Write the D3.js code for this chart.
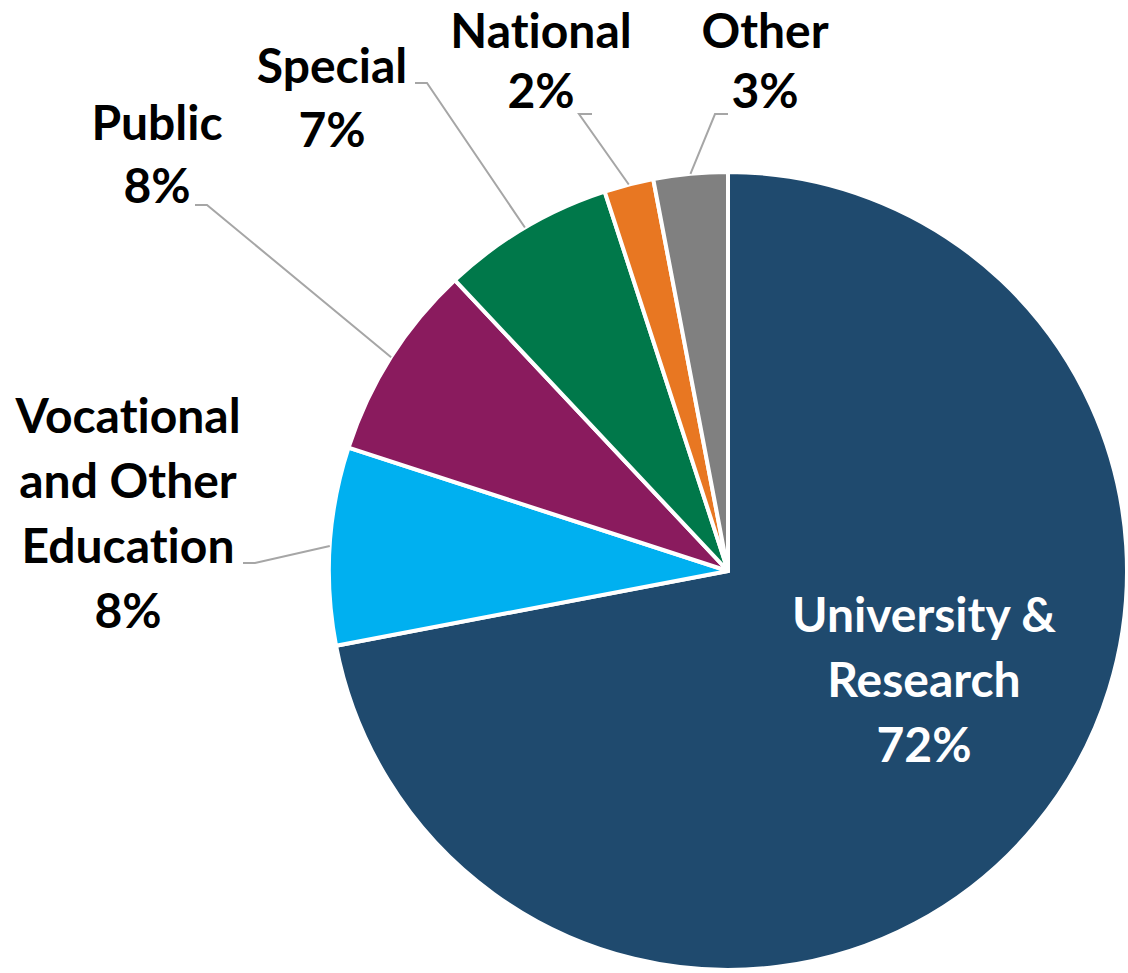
<!DOCTYPE html>
<html>
<head>
<meta charset="utf-8">
<script src="https://cdn.jsdelivr.net/npm/d3@7"></script>
<style>
  body { margin: 0; background: #fff; }
  text { font-family: Lato, "Open Sans", sans-serif; font-weight: bold; font-variant-ligatures: none; font-feature-settings: "liga" 0, "clig" 0; }
</style>
</head>
<body>
<main></main>
<script>
// data
let categories = ["University & Research", "Vocational and Other Education", "Public", "Special", "National", "Other"]
let shares = [72, 8, 8, 7, 2, 3]
let colors = ["#1f4a6e", "#00b0f0", "#8a1b5e", "#00784a", "#e87722", "#808080"]

// label layout: text lines, centre x, first baseline, elbow point of leader line
let labelLines = [
    ["University &", "Research", "72%"],
    ["Vocational", "and Other", "Education", "8%"],
    ["Public", "8%"],
    ["Special", "7%"],
    ["National", "2%"],
    ["Other", "3%"]
]
let labelX = [924, 128, 157, 332, 541, 765]
let labelY = [632, 433, 140, 83, 48, 48]
let lineGap = [65, 65, 63, 64, 60, 60]
let elbowFrom = [null, [243, 563], [195, 205], [415, 83], [592, 114], [728, 114]]
let elbowTo = [null, [255, 563], [207, 205], [427, 83], [579, 114], [715, 114]]

let width = 1128, height = 973
let cx = 728, cy = 571, r = 399

let svg = d3.select('main').append('svg')
    .attr('width', width)
    .attr('height', height)

let pie = d3.pie().sort(null).value(d => d)
let arcs = pie(shares)

let arc = d3.arc().innerRadius(0).outerRadius(r)
let edge = d3.arc().innerRadius(r).outerRadius(r)

let g = svg.append('g').attr('transform', `translate(${cx},${cy})`)

g.selectAll('path')
    .data(arcs)
    .join('path')
    .attr('d', arc)
    .attr('fill', (d, i) => colors[i])
    .attr('stroke', '#fff')
    .attr('stroke-width', 4)
    .attr('stroke-linejoin', 'round')

// leader lines
arcs.forEach((d, i) => {
    if (!elbowFrom[i]) return
    let c = edge.centroid(d)
    let pts = [elbowFrom[i], elbowTo[i], [c[0] + cx, c[1] + cy]]
    svg.append('path')
        .attr('d', d3.line()(pts))
        .attr('fill', 'none')
        .attr('stroke', '#a6a6a6')
        .attr('stroke-width', 2)
})

// labels
categories.forEach((name, i) => {
    let t = svg.append('text')
        .attr('text-anchor', 'middle')
        .attr('font-size', 48)
        .attr('fill', i === 0 ? '#fff' : '#000')
    labelLines[i].forEach((line, j) => {
        t.append('tspan')
            .attr('x', labelX[i])
            .attr('y', labelY[i] + j * lineGap[i])
            .text(line)
    })
})
</script>
</body>
</html>
